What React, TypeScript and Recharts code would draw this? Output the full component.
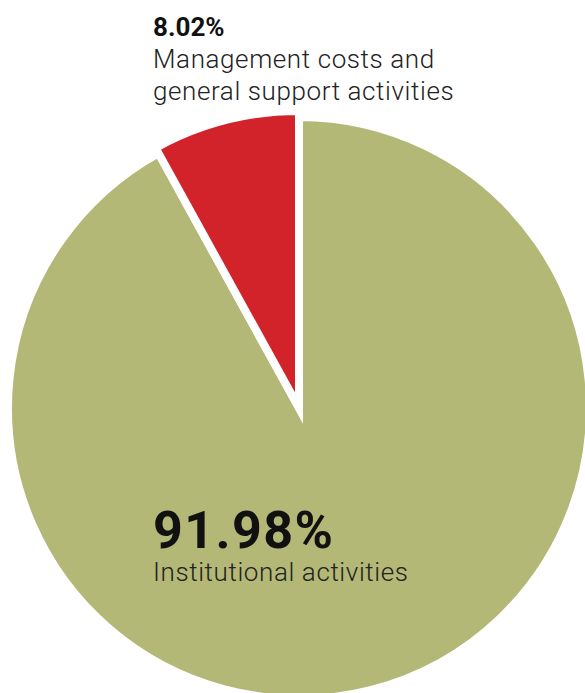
import { PieChart, Pie, Cell } from 'recharts';

// shares of total spending, starting from 12 o'clock going counter-clockwise
const categories = ['Management costs and general support activities', 'Institutional activities'];
const shares = [8.02, 91.98];
const colors = ['#d2232b', '#b4b876'];
const labelLines = [
  ['Management costs and', 'general support activities'],
  ['Institutional activities'],
];

const data = categories.map((name, i) => ({ name, value: shares[i] }));

const font = 'Roboto, "DejaVu Sans", sans-serif';

const App = () => (
  <div style={{ position: 'absolute', left: 0, top: 0, width: 585, height: 693, background: '#fff' }}>
    <PieChart width={585} height={693} margin={{ top: 0, right: 0, bottom: 0, left: 0 }}>
      {/* big olive slice */}
      <Pie
        data={data}
        dataKey="value"
        nameKey="name"
        cx={299}
        cy={408}
        outerRadius={291}
        startAngle={90}
        endAngle={450}
        stroke="#fff"
        strokeWidth={8}
        strokeMiterlimit={10}
        isAnimationActive={false}
      >
        {data.map((d, i) => (
          <Cell
            key={d.name}
            fill={i === 1 ? colors[1] : 'none'}
            stroke={i === 1 ? '#fff' : 'none'}
          />
        ))}
      </Pie>
      {/* red slice sits a little proud of the circle */}
      <Pie
        data={data}
        dataKey="value"
        nameKey="name"
        cx={299}
        cy={408}
        outerRadius={297}
        startAngle={90}
        endAngle={450}
        stroke="#fff"
        strokeWidth={8}
        strokeMiterlimit={10}
        isAnimationActive={false}
      >
        {data.map((d, i) => (
          <Cell
            key={d.name}
            fill={i === 0 ? colors[0] : 'none'}
            stroke={i === 0 ? '#fff' : 'none'}
          />
        ))}
      </Pie>
    </PieChart>
    {/* labels on top of the pie */}
    <svg width={585} height={693} style={{ position: 'absolute', left: 0, top: 0, pointerEvents: 'none' }}>
      <text x={153} y={36} fontFamily={font} fontWeight={700} fontSize={26} fill="#111">
        {`${shares[0].toFixed(2)}%`}
      </text>
      {labelLines[0].map((line, i) => (
        <text key={line} x={153} y={68 + i * 32} fontFamily={font} fontWeight={300} fontSize={26} letterSpacing={0.6} fill="#222">
          {line}
        </text>
      ))}
      <text x={153} y={548} fontFamily={font} fontWeight={700} fontSize={52} letterSpacing={1.4} fill="#111">
        {`${shares[1].toFixed(2)}%`}
      </text>
      {labelLines[1].map((line) => (
        <text key={line} x={153} y={581} fontFamily={font} fontWeight={300} fontSize={26} letterSpacing={0.6} fill="#222">
          {line}
        </text>
      ))}
    </svg>
  </div>
);

export default App;
